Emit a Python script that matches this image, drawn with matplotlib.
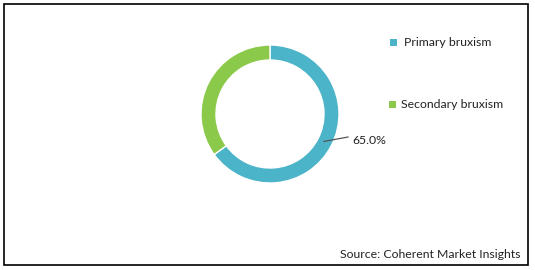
import numpy as np
import matplotlib
matplotlib.use("Agg")
import matplotlib.pyplot as plt
from matplotlib.patches import Rectangle

categories = ["Primary bruxism", "Secondary bruxism"]
values = [65.0, 35.0]
colors = ["#4BB4C8", "#8BC94A"]
source = "Source: Coherent Market Insights"

W, H = 535, 270
fig = plt.figure(figsize=(W / 100, H / 100), dpi=100)
ax = fig.add_axes([0, 0, 1, 1])

font = "Lato"
fs = 8.8

cx, cy, R, ring = 270, H - 114, 69, 15
wedges, _ = ax.pie(values, colors=colors, startangle=90, counterclock=False,
                   center=(cx, cy), radius=R, frame=True,
                   wedgeprops=dict(width=ring, edgecolor="white", linewidth=1))
ax.set_xlim(0, W)
ax.set_ylim(0, H)
ax.set_aspect("equal")
ax.axis("off")

# label for primary slice
w = wedges[0]
mid = np.deg2rad((w.theta1 + w.theta2) / 2)
r0 = R - ring / 2 - 1
x0, y0 = cx + r0 * np.cos(mid), cy + r0 * np.sin(mid)
ax.plot([x0, 348], [y0, H - 137], color="#555555", lw=0.9)
ax.text(352, H - 140, f"{values[0]:.1f}%", fontsize=fs, family=font,
        va="center", ha="left", color="#222222")

# legend
leg_y = [H - 42, H - 104]
leg_x = [393, 392]
txt_x = [404, 401]
for i, cat in enumerate(categories):
    ax.add_patch(Rectangle((leg_x[i] - 3.5, leg_y[i] - 3.5), 7, 7,
                           facecolor=colors[i], edgecolor="none"))
    ax.text(txt_x[i], leg_y[i], cat, fontsize=fs, family=font,
            va="center", ha="left", color="#222222")

ax.text(520, H - 255, source, fontsize=fs, family=font, va="center",
        ha="right", color="#222222")

# frame
ax.add_patch(Rectangle((4, H - 265), 523.5, 261, fill=False,
                       edgecolor="black", linewidth=1.2))

fig.savefig("out.png", dpi=100)
